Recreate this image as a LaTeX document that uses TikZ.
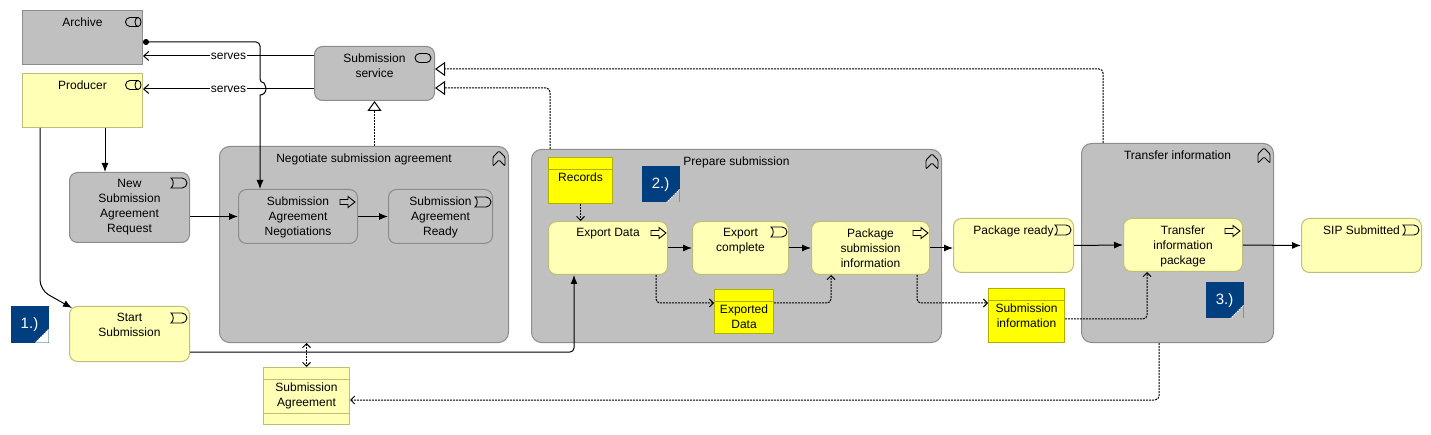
\documentclass[tikz,border=0pt]{standalone}
\usepackage{fontspec}
\setmainfont{Liberation Sans}
\usetikzlibrary{arrows.meta,calc}

\definecolor{bizgray}{RGB}{192,192,192}
\definecolor{bizgrayline}{RGB}{140,140,140}
\definecolor{bizyellow}{RGB}{255,255,181}
\definecolor{bizyellowline}{RGB}{190,190,120}
\definecolor{objyellow}{RGB}{255,255,0}
\definecolor{objyellowline}{RGB}{176,176,0}
\definecolor{notebl}{RGB}{0,63,127}

\tikzset{
  lbl/.style={anchor=north, yshift=-7pt, inner sep=0pt, align=center, font=\fontsize{12}{15}\selectfont},
  olbl/.style={lbl, yshift=-8pt},
  grp/.style={draw=bizgrayline, fill=bizgray, rounded corners=10pt, anchor=north west, inner sep=0pt},
  gbox/.style={draw=bizgrayline, fill=bizgray, rounded corners=8pt, anchor=north west, inner sep=0pt},
  ybox/.style={draw=bizyellowline, fill=bizyellow, rounded corners=8pt, anchor=north west, inner sep=0pt},
  role/.style={anchor=north west, inner sep=0pt, minimum width=120pt, minimum height=54pt},
  dobj/.style={draw=objyellowline, fill=objyellow, anchor=north west, inner sep=0pt,
    path picture={\draw[objyellowline] ([yshift=-12pt]path picture bounding box.north west) -- ([yshift=-12pt]path picture bounding box.north east);}},
  sabox/.style={draw=bizyellowline, fill=bizyellow, anchor=north west, inner sep=0pt,
    path picture={\draw[bizyellowline] ([yshift=-12pt]path picture bounding box.north west) -- ([yshift=-12pt]path picture bounding box.north east)
      ([yshift=11pt]path picture bounding box.south west) -- ([yshift=11pt]path picture bounding box.south east);}},
  note/.style={fill=notebl, text=white, anchor=north west, inner sep=0pt, minimum width=38pt, minimum height=36pt,
    font=\fontsize{15}{18}\selectfont,
    path picture={\fill[#1] ([yshift=13pt]path picture bounding box.south east) -- (path picture bounding box.south east) -- ([xshift=-13pt]path picture bounding box.south east) -- cycle;
      \draw[white, line width=0.8pt, dash pattern=on 1.5pt off 1pt] ([yshift=13pt]path picture bounding box.south east) -- ([xshift=-13pt]path picture bounding box.south east);}},
  srvlbl/.style={fill=white, inner sep=1pt, font=\fontsize{12}{15}\selectfont},
  trig/.style={-{Latex[length=9pt,width=7pt]}},
  serve/.style={-{Straight Barb[length=5pt,width=9pt]}},
  real/.style={dash pattern=on 2pt off 1pt, -{Triangle[open, length=10pt, width=14pt, line width=1pt]}},
  acc/.style={dash pattern=on 2pt off 1pt, -{Straight Barb[length=4pt, width=8pt, line width=0.9pt]}},
  assign/.style={{Circle[length=6pt]}-{Latex[length=9pt,width=7pt]}},
  evicon/.pic={\draw[line width=0.9pt] (-8,-5) -- (3,-5) arc[start angle=90, end angle=-90, radius=5pt] -- (-8,5) .. controls (-5,3) and (-5,-3) .. (-8,-5) -- cycle;},
  procicon/.pic={\draw[line width=0.9pt] (-8,-2.5) -- (0,-2.5) -- (0,-5.5) -- (7,0) -- (0,5.5) -- (0,2.5) -- (-8,2.5) -- cycle;},
  roleicon/.pic={\draw[line width=0.9pt] (4,-4.5) -- (-4,-4.5) arc[start angle=90, end angle=270, radius=4.5pt] -- (4,4.5);
    \draw[line width=0.9pt] (4,0) ellipse [x radius=3pt, y radius=4.5pt];},
  srvicon/.pic={\draw[line width=0.9pt, rounded corners=4.5pt] (-8,-4.5) rectangle (8,4.5);},
  foldicon/.pic={\draw[line width=0.9pt, rounded corners=1pt] (-6,7) -- (-6,-2) -- (0,-8) -- (6,-2) -- (6,7) -- (0,1) -- cycle;}
}

\begin{document}
\begin{tikzpicture}[x=1pt, y=-1pt, line width=1pt]
\useasboundingbox (0,0) rectangle (1431,435);

% groups
\node[grp, minimum width=289pt, minimum height=196pt, label={[lbl]north:Negotiate submission agreement}] (negotiate) at (219,146) {};
\node[grp, minimum width=410pt, minimum height=193pt, label={[lbl]north:Prepare submission}] (prepare) at (531,149) {};
\node[grp, minimum width=192pt, minimum height=199pt, label={[lbl]north:Transfer information}] (transfer) at (1081,143) {};
\pic at ([xshift=-10pt,yshift=-13pt]negotiate.north east) {foldicon};
\pic at ([xshift=-10pt,yshift=-13pt]prepare.north east) {foldicon};
\pic at ([xshift=-10pt,yshift=-13pt]transfer.north east) {foldicon};

% actors and service
\node[role, draw=bizgrayline, fill=bizgray, label={[lbl]north:Archive}] (archive) at (22,10) {};
\node[role, draw=bizyellowline, fill=bizyellow, label={[lbl]north:Producer}] (producer) at (22,73) {};
\node[gbox, minimum width=120pt, minimum height=54pt, label={[lbl]north:{Submission\\service}}] (service) at (314,46) {};
\pic at ([xshift=-9pt,yshift=-12pt]archive.north east) {roleicon};
\pic at ([xshift=-9pt,yshift=-12pt]producer.north east) {roleicon};
\pic at ([xshift=-12pt,yshift=-12pt]service.north east) {srvicon};

% negotiation
\node[gbox, minimum width=120pt, minimum height=70pt, label={[lbl]north:{New\\Submission\\Agreement\\Request}}] (newreq) at (69,172) {};
\node[gbox, minimum width=119pt, minimum height=54pt, label={[lbl]north:{Submission\\Agreement\\Negotiations}}] (negotiations) at (238,189) {};
\node[gbox, minimum width=104pt, minimum height=54pt, label={[lbl]north:{Submission\\Agreement\\Ready}}] (ready) at (388,189) {};
\node[ybox, minimum width=120pt, minimum height=55pt, label={[lbl]north:{Start\\Submission}}] (start) at (69,306) {};
\node[sabox, minimum width=86pt, minimum height=57pt, label={[olbl]north:{Submission\\Agreement}}] (sa) at (263,367) {};
\node[note=white] (note1) at (10,306) {1.)};
\pic at ([xshift=-11pt,yshift=-11pt]newreq.north east) {evicon};
\pic at ([xshift=-10pt,yshift=-13pt]negotiations.north east) {procicon};
\pic at ([xshift=-10pt,yshift=-13pt]ready.north east) {evicon};
\pic at ([xshift=-11pt,yshift=-12pt]start.north east) {evicon};

% preparation
\node[dobj, minimum width=64pt, minimum height=46pt, label={[olbl]north:Records}] (records) at (548,157) {};
\node[note=bizgray] (note2) at (641,166) {2.)};
\node[ybox, minimum width=119pt, minimum height=53pt, label={[lbl]north:Export Data}] (export) at (548,221) {};
\node[ybox, minimum width=96pt, minimum height=53pt, label={[lbl]north:{Export\\complete}}] (expcomplete) at (692,221) {};
\node[ybox, minimum width=118pt, minimum height=53pt, label={[lbl]north:{Package\\submission\\information}}] (package) at (811,221) {};
\node[dobj, minimum width=59pt, minimum height=44pt, label={[olbl]north:{Exported\\Data}}] (expdata) at (714,289) {};
\pic at ([xshift=-9pt,yshift=-12pt]export.north east) {procicon};
\pic at ([xshift=-10pt,yshift=-11pt]expcomplete.north east) {evicon};
\pic at ([xshift=-9pt,yshift=-12pt]package.north east) {procicon};

% transfer
\node[ybox, minimum width=120pt, minimum height=54pt, label={[lbl]north:Package ready}] (pkgready) at (953,218) {};
\node[dobj, minimum width=76pt, minimum height=54pt, label={[olbl]north:{Submission\\information}}] (subinfo) at (988,288) {};
\node[ybox, minimum width=119pt, minimum height=53pt, label={[lbl]north:{Transfer\\information\\package}}] (transferpkg) at (1123,218) {};
\node[note=bizgray] (note3) at (1205,282) {3.)};
\node[ybox, minimum width=120pt, minimum height=54pt, label={[lbl]north:SIP Submitted}] (sip) at (1301,218) {};
\pic at ([xshift=-11pt,yshift=-12pt]pkgready.north east) {evicon};
\pic at ([xshift=-10pt,yshift=-13pt]transferpkg.north east) {procicon};
\pic at ([xshift=-11pt,yshift=-12pt]sip.north east) {evicon};

% serving
\coordinate (srvA) at ([yshift=-10pt]service.north west);
\coordinate (srvP) at ([yshift=12pt]service.south west);
\draw[serve] (srvA) -- (srvA -| archive.east) node[midway, srvlbl] {serves};
\draw[serve] (srvP) -- (srvP -| producer.east) node[midway, srvlbl] {serves};

% assignment with hop
\coordinate (arcout) at ([yshift=-32pt]archive.north east);
\coordinate (negin) at ([xshift=22pt]negotiations.north west);
\draw[assign] (arcout) [rounded corners=4pt] -- (arcout -| negin) -- ($(negin |- srvP)+(0,-6)$) [sharp corners] arc[start angle=90, end angle=-90, radius=6pt] -- (negin);

% triggering
\coordinate (prodl) at ([xshift=18pt]producer.south west);
\coordinate (prodr) at ([xshift=83pt]producer.south west);
\draw[trig] (prodr) -- (prodr |- newreq.north);
\draw[trig, rounded corners=10pt] (prodl) -- ($(prodl |- start.north)+(0,-16)$) -- ([xshift=3pt,yshift=-2pt]start.north west);
\draw[trig] (negotiations.west -| newreq.east) -- (negotiations.west);
\draw[trig] (negotiations.east) -- (ready.west);
\draw[trig, rounded corners=4pt] ([yshift=10pt]start.south east) -| ([xshift=26pt]export.south west);
\draw[trig] (export.east) -- (expcomplete.west);
\draw[trig] (expcomplete.east) -- (package.west);
\draw[trig] (package.east) -- (package.east -| pkgready.west);
\draw[trig] (pkgready.east) -- (transferpkg.west);
\draw[trig] (transferpkg.east) -- (sip.west);

% access
\draw[acc, {Straight Barb[length=4pt, width=8pt, line width=0.9pt]}-{Straight Barb[length=4pt, width=8pt, line width=0.9pt]}] (sa.north |- negotiate.south) -- (sa.north);
\draw[acc, rounded corners=4pt] ([xshift=78pt]transfer.south west) |- ([yshift=-4pt]sa.east);
\draw[acc] (records.south) -- (records.south |- export.north);
\draw[acc, rounded corners=4pt] ([xshift=108pt]export.south west) |- ([yshift=-14pt]expdata.north west);
\draw[acc, rounded corners=4pt] ([yshift=-14pt]expdata.north east) -| ([xshift=20pt]package.south west);
\draw[acc, rounded corners=4pt] ([xshift=106pt]package.south west) |- ([yshift=-15pt]subinfo.north west);
\draw[acc, rounded corners=4pt] ([yshift=-31pt]subinfo.north east) -| ([xshift=24pt]transferpkg.south west);

% realization
\draw[real] (service.south |- negotiate.north) -- (service.south);
\draw[real, rounded corners=4pt] ([xshift=19pt]prepare.north west) |- ([yshift=13pt]service.south east);
\draw[real, rounded corners=4pt] ([xshift=22pt]transfer.north west) |- ([yshift=-23pt]service.north east);
\end{tikzpicture}
\end{document}
